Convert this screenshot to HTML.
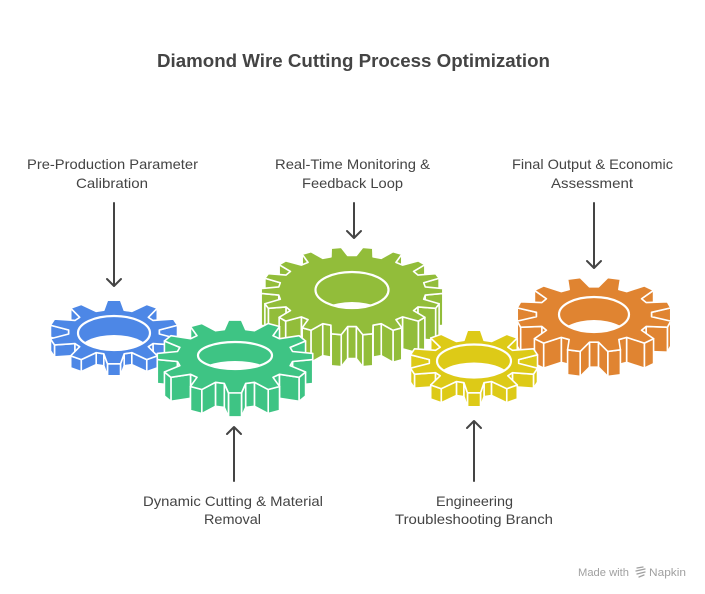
<!DOCTYPE html>
<html>
<head>
<meta charset="utf-8">
<style>
  html,body{margin:0;padding:0;background:#fff;}
  body{width:705px;height:594px;overflow:hidden;}
  svg{display:block;}
  .t{font-family:"Liberation Sans",Arial,sans-serif;fill:#444;}
</style>
</head>
<body>
<svg id="svg" width="705" height="594" viewBox="0 0 705 594" xmlns="http://www.w3.org/2000/svg">
  <rect width="705" height="594" fill="#fff"/>
  <text class="t" x="353.5" y="67" font-size="18" font-weight="bold" text-anchor="middle" textLength="393" lengthAdjust="spacingAndGlyphs">Diamond Wire Cutting Process Optimization</text>

  <g id="gears"></g>

  <!-- labels -->
  <g class="t" font-size="14" text-anchor="middle">
    <text class="t" x="112.5" y="169" textLength="171" lengthAdjust="spacingAndGlyphs">Pre-Production Parameter</text>
    <text class="t" x="112" y="188" textLength="72" lengthAdjust="spacingAndGlyphs">Calibration</text>
    <text class="t" x="352.5" y="169" textLength="155" lengthAdjust="spacingAndGlyphs">Real-Time Monitoring &amp;</text>
    <text class="t" x="352.5" y="188" textLength="101" lengthAdjust="spacingAndGlyphs">Feedback Loop</text>
    <text class="t" x="592.5" y="169" textLength="161" lengthAdjust="spacingAndGlyphs">Final Output &amp; Economic</text>
    <text class="t" x="592" y="188" textLength="82" lengthAdjust="spacingAndGlyphs">Assessment</text>
    <text class="t" x="233" y="506" textLength="180" lengthAdjust="spacingAndGlyphs">Dynamic Cutting &amp; Material</text>
    <text class="t" x="232.5" y="524" textLength="57" lengthAdjust="spacingAndGlyphs">Removal</text>
    <text class="t" x="474.5" y="506" textLength="77" lengthAdjust="spacingAndGlyphs">Engineering</text>
    <text class="t" x="474" y="524" textLength="158" lengthAdjust="spacingAndGlyphs">Troubleshooting Branch</text>
  </g>

  <!-- arrows -->
  <g stroke="#444" stroke-width="2" fill="none" stroke-linecap="round" stroke-linejoin="round">
    <line x1="114" y1="203" x2="114" y2="285"/>
    <polyline points="107,279 114,286 121,279"/>
    <line x1="354" y1="203" x2="354" y2="237"/>
    <polyline points="347,231 354,238 361,231"/>
    <line x1="594" y1="203" x2="594" y2="267"/>
    <polyline points="587,261 594,268 601,261"/>
    <line x1="234" y1="428" x2="234" y2="481"/>
    <polyline points="227,434 234,427 241,434"/>
    <line x1="474" y1="422" x2="474" y2="481"/>
    <polyline points="467,428 474,421 481,428"/>
  </g>

  <!-- watermark -->
  <text x="578" y="576" font-family="Liberation Sans,Arial,sans-serif" font-size="11" fill="#a0a0a0" textLength="51" lengthAdjust="spacingAndGlyphs">Made with</text>
  <g stroke="#a0a0a0" stroke-width="1.3" fill="none" stroke-linecap="round">
    <line x1="637" y1="568" x2="643" y2="567"/>
    <line x1="636" y1="571" x2="645" y2="569"/>
    <line x1="637" y1="574" x2="645" y2="572"/>
    <line x1="639" y1="577" x2="644" y2="575"/>
  </g>
  <text x="649" y="576" font-family="Liberation Sans,Arial,sans-serif" font-size="11" fill="#a0a0a0" textLength="37" lengthAdjust="spacingAndGlyphs">Napkin</text>
</svg>

<script>
(function(){
  var NS='http://www.w3.org/2000/svg';
  var root=document.getElementById('gears');
  function el(tag,attrs,parent){
    var e=document.createElementNS(NS,tag);
    for(var k in attrs) e.setAttribute(k,attrs[k]);
    (parent||root).appendChild(e);
    return e;
  }
  function ptsStr(arr){return arr.map(function(p){return p[0].toFixed(2)+','+p[1].toFixed(2);}).join(' ');}
  function gear(o,idx){
    var pitch=360/o.n, rr=o.root;
    var tip=o.tip*pitch, base=o.base*pitch;
    function P(deg,rho){var a=deg*Math.PI/180;return [o.cx+o.rx*rho*Math.sin(a), o.cy-o.ry*rho*Math.cos(a)];}
    var pts=[];
    for(var k=0;k<o.n;k++){
      var t=o.phase+k*pitch;
      pts.push(P(t-base,rr),P(t-tip,1),P(t+tip,1),P(t+base,rr));
    }
    var N=pts.length, quads=[];
    for(var i=0;i<N;i++){
      var a=pts[i], b=pts[(i+1)%N];
      if(b[0]-a[0] < -0.01) quads.push({a:a,b:b,d:Math.max(a[1],b[1])});
    }
    quads.sort(function(p,q){return p.d-q.d;});
    var grp=el('g',{});
    var sw=1.6;
    quads.forEach(function(q){
      el('polygon',{points:ptsStr([q.a,q.b,[q.b[0],q.b[1]+o.h],[q.a[0],q.a[1]+o.h]]),
        fill:o.c,stroke:'#fff','stroke-width':sw,'stroke-linejoin':'round'},grp);
    });
    el('polygon',{points:ptsStr(pts),fill:o.c,stroke:'#fff','stroke-width':sw,'stroke-linejoin':'round'},grp);
    var id='hc'+idx;
    var cp=el('clipPath',{id:id},grp);
    el('ellipse',{cx:o.cx,cy:o.hcy,rx:o.hx,ry:o.hy},cp);
    el('ellipse',{cx:o.cx,cy:o.hcy+o.hd,rx:o.hx,ry:o.hy,fill:'#fff','clip-path':'url(#'+id+')'},grp);
    el('ellipse',{cx:o.cx,cy:o.hcy,rx:o.hx,ry:o.hy,fill:'none',stroke:'#fff','stroke-width':2.2},grp);
  }
  var gears=[
    {c:'#92BD3A',cx:352,cy:291,rx:91,ry:44,h:32,n:18,phase:10,root:0.81,tip:0.16,base:0.33,hx:36.5,hy:18,hcy:290,hd:30},
    {c:'#E08431',cx:594,cy:314.5,rx:78,ry:37.5,h:25,n:12,phase:15,root:0.74,tip:0.16,base:0.35,hx:35,hy:17.5,hcy:314.5,hd:23},
    {c:'#4D87E6',cx:114,cy:332,rx:65,ry:32,h:12,n:10,phase:0,root:0.7,tip:0.16,base:0.36,hx:36,hy:17,hcy:333,hd:19},
    {c:'#3EC484',cx:235,cy:356.5,rx:78,ry:36.5,h:24,n:12,phase:0,root:0.75,tip:0.16,base:0.35,hx:37,hy:13.5,hcy:355.5,hd:19},
    {c:'#DDCA17',cx:474,cy:361.5,rx:65,ry:31.5,h:14,n:10,phase:0,root:0.69,tip:0.16,base:0.36,hx:37,hy:16.5,hcy:361,hd:18}
  ];
  gears.forEach(gear);
})();
</script>
</body>
</html>
